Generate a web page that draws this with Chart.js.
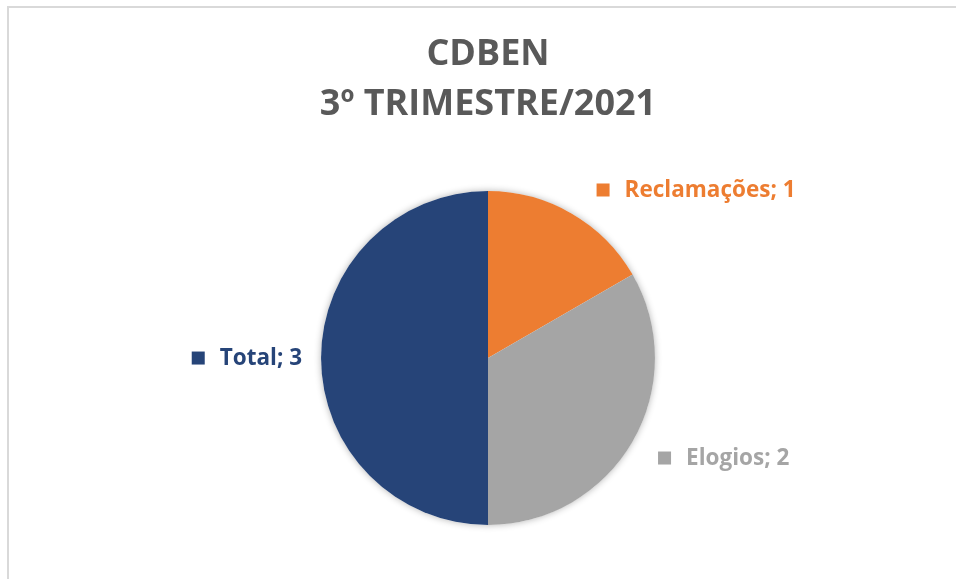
<!DOCTYPE html>
<html>
<head>
<meta charset="utf-8">
<script src="https://cdn.jsdelivr.net/npm/chart.js@4/dist/chart.umd.min.js"></script>
<style>
    body { margin: 0; background: #fff; }
    #wrap { position: relative; width: 956px; height: 579px; overflow: hidden; }
    #frame {
        position: absolute; left: 7px; top: 6px; width: 1100px; height: 1100px;
        border: 2px solid #d9d9d9; box-sizing: border-box;
    }
    #myChart { position: absolute; left: 0; top: 0; }
</style>
</head>
<body>
<div id="wrap">
    <div id="frame"></div>
    <canvas id="myChart" width="956" height="579"></canvas>
</div>
<script>
const categorias = ["Reclamações", "Elogios", "Total"];
const valores = [1, 2, 3];
const cores = ["#ed7d31", "#a5a5a5", "#264478"];
const titulo = ["CDBEN", "3º TRIMESTRE/2021"];

// labels "Nome; valor" outside the slices, like the Excel ones
const rotulosPlugin = {
    id: "rotulos",
    beforeDatasetsDraw(chart) {
        // soft shadow behind the whole pie
        const arc = chart.getDatasetMeta(0).data[0];
        if (!arc) return;
        const ctx = chart.ctx;
        ctx.save();
        ctx.shadowColor = "rgba(0,0,0,0.3)";
        ctx.shadowBlur = 7;
        ctx.fillStyle = "#fff";
        ctx.beginPath();
        ctx.arc(arc.x, arc.y, arc.outerRadius, 0, Math.PI * 2);
        ctx.fill();
        ctx.restore();
    },
    afterDatasetsDraw(chart) {
        const ctx = chart.ctx;
        const meta = chart.getDatasetMeta(0);
        ctx.save();
        ctx.font = "bold 22.5px 'Open Sans'";
        ctx.textBaseline = "middle";
        meta.data.forEach((arc, i) => {
            const texto = categorias[i] + "; " + valores[i];
            const meio = (arc.startAngle + arc.endAngle) / 2;
            const dx = Math.cos(meio);
            const dy = Math.sin(meio);
            const R = arc.outerRadius + 19;
            const ax = arc.x + dx * R;
            const ay = arc.y + dy * R;
            const quad = 13;
            const espaco = 15;
            const w = quad + espaco + ctx.measureText(texto).width;
            const h = 14;
            const extra = 18 * Math.abs(dy);
            let left = ax - w / 2;
            if (dx > 0.05) left = ax + extra;
            else if (dx < -0.05) left = ax - w - extra;
            let top = ay - h / 2;
            if (dy > 0.05) top = ay;
            else if (dy < -0.05) top = ay - h;
            const cy = top + h / 2;
            ctx.fillStyle = cores[i];
            ctx.fillRect(left, cy - quad / 2, quad, quad);
            ctx.fillText(texto, left + quad + espaco, cy + 1);
        });
        ctx.restore();
    },
};

const ctx = document.getElementById("myChart");
const chart = new Chart(ctx, {
    type: "pie",
    data: {
        labels: categorias,
        datasets: [
            {
                data: valores,
                backgroundColor: cores,
                borderWidth: 0,
            },
        ],
    },
    options: {
        responsive: false,
        animation: false,
        layout: {
            padding: { top: 0, bottom: 54, left: 20, right: 0 },
        },
        plugins: {
            legend: { display: false },
            tooltip: { enabled: false },
            title: {
                display: true,
                text: titulo,
                color: "#595959",
                font: { family: "'Open Sans'", size: 36, weight: "bold", lineHeight: 1.39 },
                padding: { top: 30, bottom: 61 },
            },
        },
    },
    plugins: [rotulosPlugin],
});
</script>
</body>
</html>
